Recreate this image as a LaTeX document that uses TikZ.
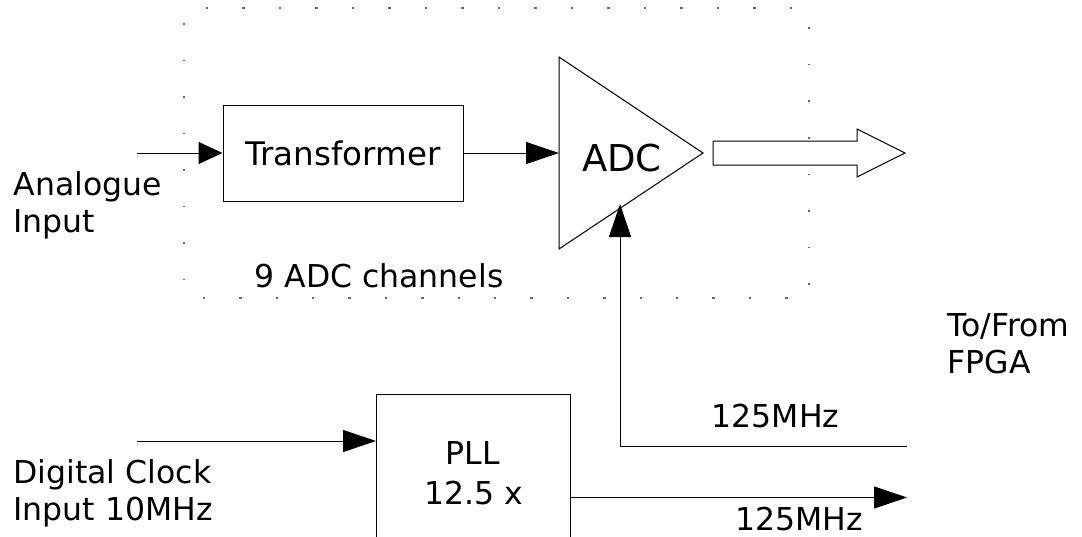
\documentclass[tikz,border=0pt]{standalone}
\usepackage{fontspec}
\setmainfont{DejaVu Sans}
\usetikzlibrary{arrows.meta}
\begin{document}
\begin{tikzpicture}[x=1pt,y=-1pt,
  line width=1pt,
  txt/.style={font=\fontsize{31.5}{37}\selectfont, inner sep=0pt},
  blk/.style={draw, inner sep=0pt},
  arr/.style={-{Triangle[length=33pt,width=22pt]}},
  arrs/.style={-{Triangle[length=24pt,width=22pt]}},
  dotd/.style={fill=black!60},
]
\useasboundingbox (0,0) rectangle (1082,536);
\clip (0,0) rectangle (1082,536);

% dotted group border
\foreach \i in {0,...,16} {
  \fill[dotd] ({207+36.5*\i-1.2},7.2) rectangle +(2.4,1.6);
  \fill[dotd] ({204+36.4*\i-1.2},297.2) rectangle +(2.4,1.6);
}
\foreach \j in {0,...,7} {
  \fill[dotd] (183.2,{24+36.5*\j-0.8}) rectangle +(1.6,1.6);
  \fill[dotd] (808.2,{28+36.6*\j-0.8}) rectangle +(1.6,1.6);
}

% transformer
\node[blk, minimum width=240pt, minimum height=96pt, font=\fontsize{32.5}{38}\selectfont] (tr) at (343,153) {Transformer};

% ADC triangle
\coordinate (adcA) at (559,57);
\coordinate (adcB) at (559,249);
\coordinate (adcT) at (703,153);
\draw (adcA) -- (adcB) -- (adcT) -- cycle;
\node[font=\fontsize{37}{44}\selectfont, inner sep=0pt, anchor=base] (adc) at (622,171) {ADC};
\coordinate (adcin) at (559,153);
\coordinate (adcclk) at (620,204);

\coordinate (ain) at (137,153);
\draw[arrs] (ain) -- (tr.west);
\draw[arr] (tr.east) -- (adcin);

% hollow output arrow
\coordinate (ba1) at (713,141);
\coordinate (ba2) at (857,141);
\coordinate (ba3) at (857,129);
\coordinate (ba4) at (905,153);
\coordinate (ba5) at (857,177);
\coordinate (ba6) at (857,165);
\coordinate (ba7) at (713,165);
\draw (ba1) -- (ba2) -- (ba3) -- (ba4) -- (ba5) -- (ba6) -- (ba7) -- cycle;

% texts
\node[txt, anchor=base west] (ai1) at (13,195) {Analogue};
\node[txt, anchor=base west] (ai2) at (13,232) {Input};
\node[txt, anchor=base] (ch) at (379,287) {9 ADC channels};
\node[txt, anchor=base west] (tf1) at (947,336) {To/From};
\node[txt, anchor=base west] (tf2) at (947,373) {FPGA};
\node[txt, anchor=base west] (dc1) at (13,483) {Digital Clock};
\node[txt, anchor=base west] (dc2) at (13,520) {Input 10MHz};

% PLL
\node[blk, minimum width=194pt, minimum height=160pt, anchor=north west] (pll) at (376,394) {};
\node[txt, anchor=base] (pll1) at (473,464) {PLL};
\node[txt, anchor=base] (pll2) at (474,504) {12.5 x};

\coordinate (clkin) at (137,441);
\draw[arr] (clkin) -- (clkin -| pll.west);
\coordinate (pllout) at (570,497.5);
\coordinate (outtip) at (907,497.5);
\draw[arr] (pllout) -- (outtip);
\coordinate (fpgaclk) at (907,446);
\draw[arr] (fpgaclk) -| (adcclk);
\node[txt, anchor=base] (f1) at (775.5,427) {125MHz};
\node[txt, anchor=base] (f2) at (799,530) {125MHz};
\end{tikzpicture}
\end{document}
